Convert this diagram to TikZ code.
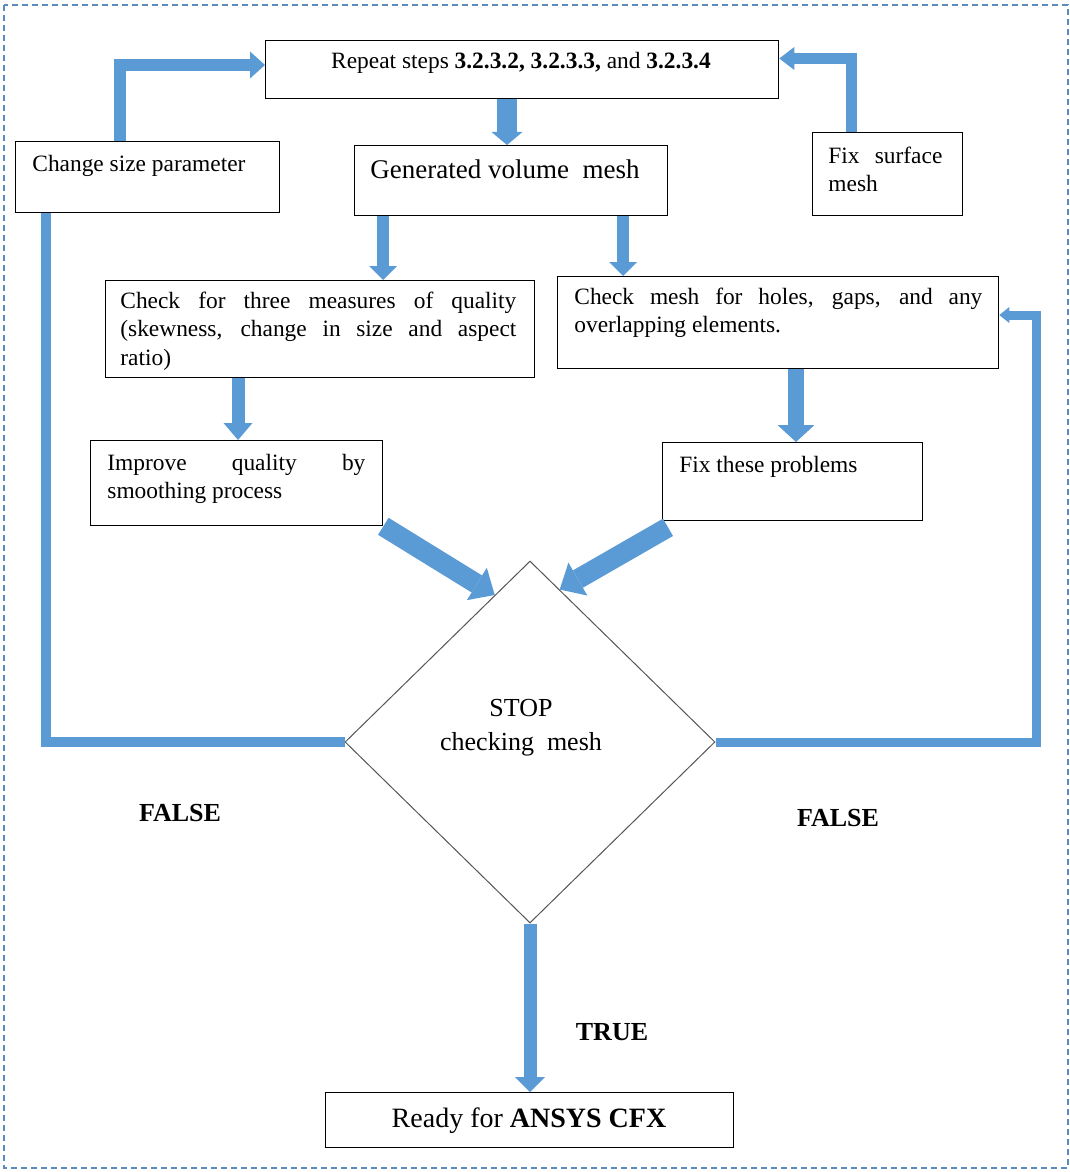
\documentclass[tikz,border=0pt]{standalone}
\usepackage{fontspec}
\setmainfont{Liberation Serif}
\usetikzlibrary{arrows.meta,shapes.geometric,calc}
\definecolor{flowblue}{HTML}{5B9BD5}
\definecolor{framecol}{HTML}{5B8CC0}
\definecolor{diagray}{HTML}{555555}

\begin{document}
\begin{tikzpicture}[x=0.5pt,y=-0.5pt,
  box/.style={draw=black,line width=0.65pt,rectangle,inner sep=0pt,anchor=north west},
  body/.style={inner sep=0pt,font={\fontsize{11.7}{14.25}\selectfont}},
  para/.style={body,anchor=base west,text width=#1,align=justify},
  big/.style={inner sep=0pt,font={\fontsize{13.5}{17}\selectfont}},
  verdict/.style={inner sep=0pt,font={\fontsize{13}{16}\selectfont\bfseries}},
  flow/.style={draw=flowblue,line width=#1,line join=miter},
  head/.style 2 args={-{Triangle[width=#1,length=#2,line width=0pt]}},
]
\useasboundingbox (0,0) rectangle (1070,1172);

% outer frame
\draw[framecol,line width=0.6pt,dash pattern=on 3pt off 2pt] (4,5) rectangle (1068,1168);

% process boxes and their texts
\node[box,minimum width=256.5pt,minimum height=29pt] (rep) at (265,40) {};
\node[body,anchor=base] (repT) at (521,69) {Repeat steps \textbf{3.2.3.2, 3.2.3.3,} and \textbf{3.2.3.4}};

\node[box,minimum width=132pt,minimum height=35.5pt] (cs) at (15,141) {};
\node[body,anchor=base west] (csT) at (32,171) {Change size parameter};

\node[box,minimum width=156.5pt,minimum height=35pt] (gen) at (354,145) {};
\node[big,anchor=base west] (genT) at (370,178) {Generated volume\ \ mesh};

\node[box,minimum width=75pt,minimum height=41.5pt] (fix) at (812,132) {};
\node[para=57pt] (fixT) at (828,163) {Fix surface\linebreak mesh};

\node[box,minimum width=214.5pt,minimum height=48.5pt] (chk) at (105,280) {};
\node[para=198pt] (chkT) at (120,308) {Check for three measures of quality\linebreak (skewness, change in size and aspect\linebreak ratio)};

\node[box,minimum width=220.5pt,minimum height=46pt] (hol) at (557,276) {};
\node[para=204pt] (holT) at (574,304) {Check mesh for holes, gaps, and any\linebreak overlapping elements.};

\node[box,minimum width=146pt,minimum height=42.5pt] (imp) at (90,440) {};
\node[para=129pt] (impT) at (107,470) {Improve quality by\linebreak smoothing process};

\node[box,minimum width=130pt,minimum height=39pt] (fxp) at (662,442) {};
\node[body,anchor=base west] (fxpT) at (679,472) {Fix these problems};

% decision (the text node's base is the baseline of its last line)
\node[draw=diagray,line width=0.5pt,diamond,inner sep=0pt,minimum width=185pt,minimum height=181pt] (dia) at (530,742) {};
\node[big,align=center,anchor=base,font={\fontsize{13}{17}\selectfont}] (diaT) at (521,750) {STOP\\checking\ \ mesh};

\node[box,minimum width=204pt,minimum height=27.5pt] (rdy) at (325,1092) {};
\node[inner sep=0pt,anchor=base,font={\fontsize{14}{17}\selectfont}] (rdyT) at (529,1127) {Ready for \textbf{ANSYS CFX}};

% branch labels
\node[verdict] (fL) at (180,813) {FALSE};
\node[verdict] (fR) at (838,818) {FALSE};
\node[verdict] (tr) at (612,1032) {TRUE};

% columns and rows used by the connectors
\coordinate (xA) at (507,0);
\coordinate (xB) at (383,0);
\coordinate (xC) at (623,0);
\coordinate (xD) at (238,0);
\coordinate (xE) at (796,0);
\coordinate (xL) at (120,0);
\coordinate (yL) at (0,65);
\coordinate (xR) at (851,0);
\coordinate (yR) at (0,58.5);
\coordinate (xLL) at (46,0);
\coordinate (xRR) at (1036,0);
\coordinate (yRR) at (0,315);

% straight block arrows
\draw[flow=10pt,head={15.5pt}{6.5pt}] (rep.south -| xA) -- (gen.north -| xA);
\draw[flow=6pt,head={14pt}{7pt}] (gen.south -| xB) -- (chk.north -| xB);
\draw[flow=6pt,head={14pt}{7pt}] (gen.south -| xC) -- (hol.north -| xC);
\draw[flow=6.5pt,head={14.5pt}{8.5pt}] (chk.south -| xD) -- (imp.north -| xD);
\draw[flow=8pt,head={18.5pt}{8.5pt}] (hol.south -| xE) -- (fxp.north -| xE);
\draw[flow=6.5pt,head={15pt}{7.5pt}] (dia.south) -- (rdy.north -| dia.south);

% diagonal block arrows into the decision
\draw[flow=10pt,head={19pt}{10.5pt}] (imp.south east) -- ($(dia.north)!0.19!(dia.west)$);
\draw[flow=10pt,head={19pt}{10.5pt}] ($(fxp.south west)+(6,6)$) -- ($(dia.north)!0.16!(dia.east)$);

% feedback arrows into the repeat step
\draw[flow=6pt,head={13.5pt}{7.5pt}] (cs.north -| xL) |- (rep.west |- yL);
\draw[flow=5.5pt,head={11.5pt}{7.5pt}] (fix.north -| xR) |- (rep.east |- yR);

% FALSE loops
\draw[flow=5pt] (dia.west) -| (cs.south -| xLL);
\draw[flow=4.5pt,head={8pt}{5pt}] (dia.east) -| (yRR -| xRR) -- (hol.east |- yRR);
\end{tikzpicture}
\end{document}
